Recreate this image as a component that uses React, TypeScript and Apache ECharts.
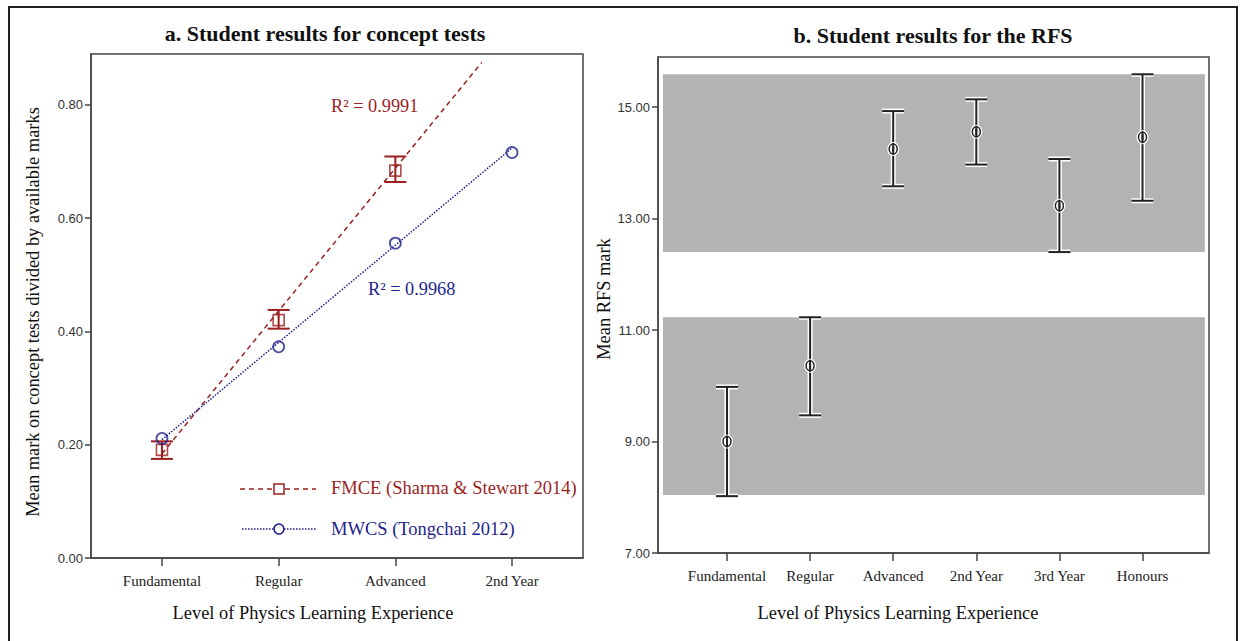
import React, { useEffect, useRef } from 'react';
import * as echarts from 'echarts';

// ---------- Panel a data ----------
const catsA = ['Fundamental', 'Regular', 'Advanced', '2nd Year'];
const fmceMean = [0.191, 0.420, 0.684];
const fmceLow = [0.175, 0.405, 0.664];
const fmceHigh = [0.206, 0.438, 0.709];
const mwcsMean = [0.211, 0.373, 0.556, 0.716];
const fmceFitX = [1, 3.74];
const fmceFitY = [0.184, 0.875];
const mwcsFitX = [1, 4];
const mwcsFitY = [0.209, 0.724];
const yTicksA = [0, 0.2, 0.4, 0.6, 0.8];

// ---------- Panel b data ----------
const catsB = ['Fundamental', 'Regular', 'Advanced', '2nd Year', '3rd Year', 'Honours'];
const rfsMean = [9.0, 10.36, 14.25, 14.56, 13.23, 14.46];
const rfsLow = [8.02, 9.47, 13.58, 13.97, 12.40, 13.32];
const rfsHigh = [9.98, 11.23, 14.93, 15.14, 14.07, 15.59];
const bandLow = [12.40, 8.04];
const bandHigh = [15.59, 11.23];
const yTicksB = [7, 9, 11, 13, 15];

const RED = '#9b1f1f';
const BLUE = '#1f1f8c';
const FRAME = '#454545';
const SERIF = "'Liberation Serif', 'Times New Roman', serif";
const NARROW = "'Liberation Sans Narrow', 'Arial Narrow', 'Liberation Sans', sans-serif";

export default function App() {
  const ref = useRef<HTMLDivElement>(null);

  useEffect(() => {
    const chart = echarts.init(ref.current as HTMLDivElement, null, { renderer: 'svg' });

    const xIdxA = catsA.map((_, i) => i + 1);
    const xIdxB = catsB.map((_, i) => i + 1);

    const baseX = (gridIndex: number, min: number, max: number, ticks: number[], cats: string[]) => ({
      gridIndex,
      type: 'value',
      min,
      max,
      splitLine: { show: false },
      axisLine: { show: true, lineStyle: { color: FRAME, width: 1.5 } },
      axisTick: { show: true, customValues: ticks, length: 8, lineStyle: { color: FRAME, width: 1.5 } },
      axisLabel: {
        customValues: ticks,
        formatter: (v: number) => cats[Math.round(v) - 1] ?? '',
        fontFamily: SERIF,
        fontSize: 15,
        color: '#222',
        margin: 15,
      },
    });

    const baseY = (gridIndex: number, min: number, max: number, ticks: number[]) => ({
      gridIndex,
      type: 'value',
      min,
      max,
      splitLine: { show: false },
      axisLine: { show: true, lineStyle: { color: FRAME, width: 1.5 } },
      axisTick: { show: true, customValues: ticks, length: 6, inside: false, lineStyle: { color: FRAME, width: 1.5 } },
      axisLabel: {
        customValues: ticks,
        formatter: (v: number) => v.toFixed(2),
        fontFamily: NARROW,
        fontSize: 13,
        color: '#333',
        margin: 8,
      },
    });

    const option: any = {
      animation: false,
      backgroundColor: '#ffffff',
      grid: [
        { left: 91, top: 54, width: 492, height: 504, show: true, borderColor: FRAME, borderWidth: 1.5, backgroundColor: '#fff' },
        { left: 658, top: 57, width: 551, height: 496, show: true, borderColor: FRAME, borderWidth: 1.5, backgroundColor: '#fff' },
      ],
      xAxis: [
        baseX(0, 0.392, 4.608, xIdxA, catsA),
        baseX(1, 0.17, 6.8, xIdxB, catsB),
      ],
      yAxis: [
        baseY(0, 0, 0.89, yTicksA),
        baseY(1, 7, 15.9, yTicksB),
      ],
      series: [
        // ---- panel a fit lines ----
        {
          type: 'line',
          xAxisIndex: 0,
          yAxisIndex: 0,
          data: fmceFitX.map((x, i) => [x, fmceFitY[i]]),
          showSymbol: false,
          silent: true,
          lineStyle: { color: RED, width: 1.5, type: [5, 4] },
          z: 2,
        },
        {
          type: 'line',
          xAxisIndex: 0,
          yAxisIndex: 0,
          data: mwcsFitX.map((x, i) => [x, mwcsFitY[i]]),
          showSymbol: false,
          silent: true,
          lineStyle: { color: BLUE, width: 1.5, type: [1.5, 1.5] },
          z: 2,
        },
        // ---- panel a error bars ----
        {
          type: 'custom',
          xAxisIndex: 0,
          yAxisIndex: 0,
          data: fmceLow.map((lo, i) => [i + 1, lo, fmceHigh[i]]),
          encode: { x: 0, y: [1, 2] },
          z: 3,
          renderItem: (params: any, api: any) => {
            const x = api.value(0);
            const pLo = api.coord([x, api.value(1)]);
            const pHi = api.coord([x, api.value(2)]);
            const hw = 11;
            const style = { stroke: RED, lineWidth: 2, fill: 'none' };
            return {
              type: 'group',
              children: [
                { type: 'line', shape: { x1: pLo[0], y1: pLo[1], x2: pHi[0], y2: pHi[1] }, style },
                { type: 'line', shape: { x1: pLo[0] - hw, y1: pLo[1], x2: pLo[0] + hw, y2: pLo[1] }, style },
                { type: 'line', shape: { x1: pHi[0] - hw, y1: pHi[1], x2: pHi[0] + hw, y2: pHi[1] }, style },
              ],
            };
          },
        },
        // ---- panel a markers ----
        {
          type: 'scatter',
          xAxisIndex: 0,
          yAxisIndex: 0,
          data: fmceMean.map((v, i) => [i + 1, v]),
          symbol: 'rect',
          symbolSize: 11,
          itemStyle: { color: 'rgba(0,0,0,0)', borderColor: RED, borderWidth: 1.6 },
          z: 4,
        },
        {
          type: 'scatter',
          xAxisIndex: 0,
          yAxisIndex: 0,
          data: mwcsMean.map((v, i) => [i + 1, v]),
          symbol: 'circle',
          symbolSize: 11,
          itemStyle: { color: 'rgba(0,0,0,0)', borderColor: BLUE, borderWidth: 1.8 },
          z: 4,
        },
        // ---- panel b error bars and means ----
        {
          type: 'custom',
          xAxisIndex: 1,
          yAxisIndex: 1,
          data: rfsLow.map((lo, i) => [xIdxB[i], lo, rfsHigh[i], rfsMean[i]]),
          encode: { x: 0, y: [1, 2] },
          z: 3,
          markArea: {
            silent: true,
            itemStyle: { color: '#b3b3b3', opacity: 1 },
            data: bandLow.map((lo, i) => [
              { xAxis: 0.23, yAxis: lo },
              { xAxis: 6.75, yAxis: bandHigh[i] },
            ]),
          },
          renderItem: (params: any, api: any) => {
            const x = api.value(0);
            const pLo = api.coord([x, api.value(1)]);
            const pHi = api.coord([x, api.value(2)]);
            const pM = api.coord([x, api.value(3)]);
            const hw = 11;
            const halo = { stroke: '#ffffff', lineWidth: 5, fill: 'none' };
            const ink = { stroke: '#222222', lineWidth: 2, fill: 'none' };
            const lines = (st: any) => [
              { type: 'line', shape: { x1: pLo[0], y1: pLo[1], x2: pHi[0], y2: pHi[1] }, style: st },
              { type: 'line', shape: { x1: pLo[0] - hw, y1: pLo[1], x2: pLo[0] + hw, y2: pLo[1] }, style: st },
              { type: 'line', shape: { x1: pHi[0] - hw, y1: pHi[1], x2: pHi[0] + hw, y2: pHi[1] }, style: st },
            ];
            return {
              type: 'group',
              children: [
                ...lines(halo),
                ...lines(ink),
                { type: 'ellipse', shape: { cx: pM[0], cy: pM[1], rx: 4, ry: 5 }, style: { stroke: '#ffffff', lineWidth: 4, fill: 'none' } },
                { type: 'line', shape: { x1: pM[0], y1: pM[1] - 6, x2: pM[0], y2: pM[1] + 6 }, style: ink },
                { type: 'ellipse', shape: { cx: pM[0], cy: pM[1], rx: 4, ry: 5 }, style: { stroke: '#222222', lineWidth: 1.5, fill: 'none' } },
              ],
            };
          },
        },
      ],
      graphic: [
        { type: 'rect', shape: { x: 9, y: 7, width: 1228, height: 660 }, style: { fill: 'none', stroke: '#222', lineWidth: 2 }, silent: true },
        // titles
        { type: 'text', x: 325, y: 33, style: { text: 'a. Student results for concept tests', font: `bold 22px ${SERIF}`, fill: '#111', align: 'center', verticalAlign: 'middle' } },
        { type: 'text', x: 933, y: 35, style: { text: 'b. Student results for the RFS', font: `bold 22px ${SERIF}`, fill: '#111', align: 'center', verticalAlign: 'middle' } },
        // axis titles
        { type: 'text', x: 33, y: 312, rotation: Math.PI / 2, style: { text: 'Mean mark on concept tests divided by available marks', font: `18.4px ${SERIF}`, fill: '#111', align: 'center', verticalAlign: 'middle' } },
        { type: 'text', x: 604, y: 299, rotation: Math.PI / 2, style: { text: 'Mean RFS mark', font: `18.4px ${SERIF}`, fill: '#111', align: 'center', verticalAlign: 'middle' } },
        { type: 'text', x: 313, y: 613, style: { text: 'Level of Physics Learning Experience', font: `18.4px ${SERIF}`, fill: '#111', align: 'center', verticalAlign: 'middle' } },
        { type: 'text', x: 898, y: 613, style: { text: 'Level of Physics Learning Experience', font: `18.4px ${SERIF}`, fill: '#111', align: 'center', verticalAlign: 'middle' } },
        // R² labels
        { type: 'text', x: 331, y: 106, style: { text: 'R² = 0.9991', font: `18.3px ${SERIF}`, fill: RED, align: 'left', verticalAlign: 'middle' } },
        { type: 'text', x: 368, y: 289, style: { text: 'R² = 0.9968', font: `18.3px ${SERIF}`, fill: BLUE, align: 'left', verticalAlign: 'middle' } },
        // legend
        { type: 'line', shape: { x1: 240, y1: 489, x2: 316, y2: 489 }, style: { stroke: RED, lineWidth: 1.5, lineDash: [5, 4] } },
        { type: 'rect', shape: { x: 274, y: 484, width: 10, height: 10 }, style: { fill: '#fff', stroke: RED, lineWidth: 1.5 } },
        { type: 'text', x: 331, y: 488, style: { text: 'FMCE (Sharma & Stewart 2014)', font: `18.5px ${SERIF}`, fill: RED, align: 'left', verticalAlign: 'middle' } },
        { type: 'line', shape: { x1: 242, y1: 529, x2: 316, y2: 529 }, style: { stroke: BLUE, lineWidth: 1.5, lineDash: [1.5, 1.5] } },
        { type: 'circle', shape: { cx: 279, cy: 529, r: 5 }, style: { fill: '#fff', stroke: BLUE, lineWidth: 1.6 } },
        { type: 'text', x: 331, y: 529, style: { text: 'MWCS (Tongchai 2012)', font: `18.5px ${SERIF}`, fill: BLUE, align: 'left', verticalAlign: 'middle' } },
      ],
    };

    chart.setOption(option);
    return () => chart.dispose();
  }, []);

  return (
    <div
      ref={ref}
      style={{ position: 'fixed', left: 0, top: 0, width: 1242, height: 641, background: '#fff' }}
    />
  );
}
